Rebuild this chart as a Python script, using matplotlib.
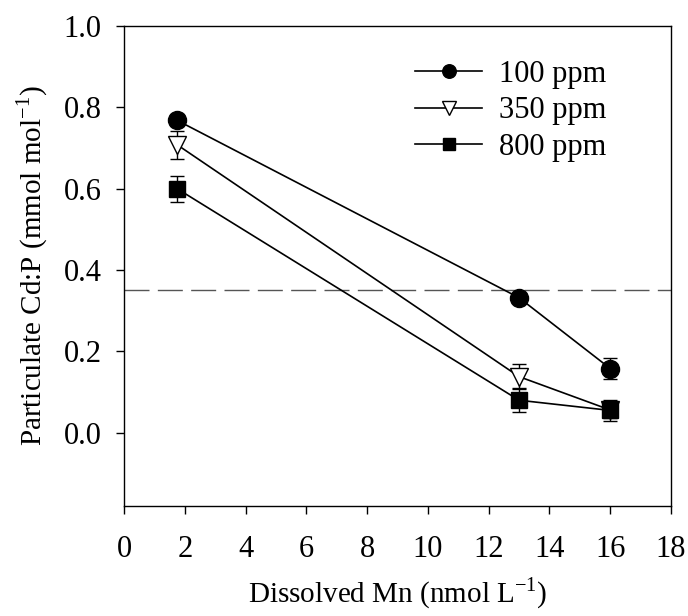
import matplotlib
matplotlib.use("Agg")
import matplotlib.pyplot as plt

plt.rcParams["font.family"] = ["Liberation Serif", "DejaVu Serif"]
plt.rcParams["mathtext.fontset"] = "custom"
plt.rcParams["mathtext.rm"] = "Liberation Serif"

mn = [1.75, 13.0, 16.0]
cdp_100 = [0.768, 0.332, 0.158]
err_100 = [0.015, 0.012, 0.025]
cdp_350 = [0.708, 0.138, 0.056]
err_350 = [0.035, 0.030, 0.020]
cdp_800 = [0.600, 0.080, 0.055]
err_800 = [0.032, 0.030, 0.025]
threshold = 0.35

fig = plt.figure(figsize=(6.88, 6.16), dpi=100)
ax = fig.add_axes([124 / 688, 1 - 506 / 616, 547 / 688, 480 / 616])

common = dict(color="black", linewidth=1.2, capsize=5, elinewidth=1.0, capthick=1.0)
e1 = ax.errorbar(mn, cdp_100, yerr=err_100, marker="o", markersize=13,
                 markerfacecolor="black", markeredgecolor="black", label="100 ppm", **common)
e2 = ax.errorbar(mn, cdp_350, yerr=err_350, marker="v", markersize=13,
                 markerfacecolor="white", markeredgecolor="black", label="350 ppm", **common)
e3 = ax.errorbar(mn, cdp_800, yerr=err_800, marker="s", markersize=12,
                 markerfacecolor="black", markeredgecolor="black", label="800 ppm", **common)

ax.axhline(threshold, color="#555555", linewidth=1.0, dashes=(18, 6))

ax.set_xlim(0, 18)
ax.set_ylim(-0.18, 1.0)
ax.set_xticks(range(0, 19, 2))
ax.set_yticks([0.0, 0.2, 0.4, 0.6, 0.8, 1.0])
ax.set_yticklabels(["0.0", "0.2", "0.4", "0.6", "0.8", "1.0"])
ax.tick_params(direction="out", length=6, width=1.0, labelsize=22)
ax.tick_params(axis="x", pad=15)
ax.tick_params(axis="y", pad=10)

ax.set_xlabel(r"Dissolved Mn (nmol L$^{\mathregular{-1}}$)", fontsize=21, labelpad=8)
ax.set_ylabel(r"Particulate Cd:P (mmol mol$^{\mathregular{-1}}$)", fontsize=21, labelpad=10)

for s in ax.spines.values():
    s.set_linewidth(1.0)

handles = [e1[0], e2[0], e3[0]]
ax.legend(handles, ["100 ppm", "350 ppm", "800 ppm"], loc="upper left",
          bbox_to_anchor=(0.532, 0.93), frameon=False, fontsize=22, markerscale=0.75,
          handlelength=2.2, handletextpad=0.55, labelspacing=0.25,
          borderaxespad=0, borderpad=0)

fig.savefig("out.png", dpi=100)
